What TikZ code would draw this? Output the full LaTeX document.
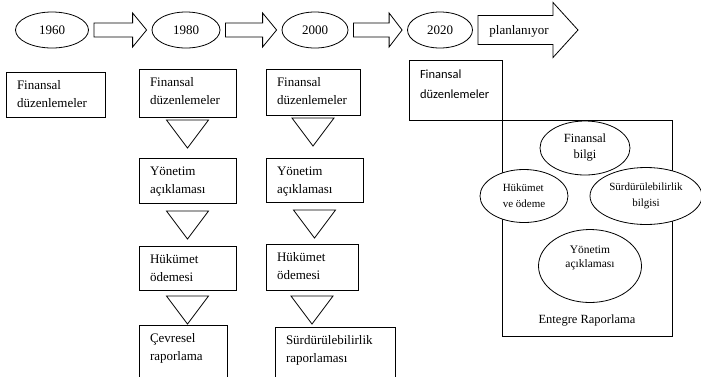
\documentclass[tikz,border=0pt]{standalone}
\usepackage{fontspec}
\setmainfont{Liberation Serif}
\newfontfamily\calibrifont{Carlito}
\usetikzlibrary{shapes.geometric, calc, positioning}

% block arrow between two anchors: start, end, half body, half head, head length
\newcommand{\yeararrow}[5]{%
  \draw let \p1=($(#1)+(5pt,0pt)$), \p2=($(#2)+(-5pt,0pt)$) in
    (\x1,\y1+#3) -- (\x2-#5,\y1+#3) -- (\x2-#5,\y1+#4) -- (\x2,\y1)
    -- (\x2-#5,\y1-#4) -- (\x2-#5,\y1-#3) -- (\x1,\y1-#3) -- cycle;}

\begin{document}
\begin{tikzpicture}[x=1pt, y=-1pt, line width=0.8pt]
        % Styles
        \tikzstyle{year} = [draw, ellipse, minimum width=66pt, minimum height=36pt, inner sep=1pt, font=\fontsize{13}{16}\selectfont]
        \tikzstyle{box} = [draw, rectangle, anchor=north west, align=left, inner xsep=11pt, inner ysep=5pt, outer sep=0pt, text height=12pt, font=\fontsize{13}{18.5}\selectfont]
        \tikzstyle{bubble} = [draw, ellipse, fill=white, align=center, inner sep=1pt]

        \useasboundingbox (0,0) rectangle (701,376);
        \clip (0,0) rectangle (701,376);

        % Time line
        \node[year, minimum width=73pt] (y60) at (52,30) {1960};
        \node[year, minimum width=68pt] (y80) at (186,30) {1980};
        \node[year] (y00) at (315,30) {2000};
        \node[year, minimum width=65pt] (y20) at (440,30) {2020};
        \coordinate (tip) at (583,30);
        \node[font=\fontsize{13}{16}\selectfont] (plan) at (519,31) {planlanıyor};

        \yeararrow{y60.east}{y80.west}{7pt}{17pt}{14pt}
        \yeararrow{y80.east}{y00.west}{7pt}{17pt}{14pt}
        \yeararrow{y00.east}{y20.west}{7pt}{17pt}{13pt}
        \yeararrow{y20.east}{tip}{14.5pt}{27.5pt}{25pt}

        % 1960
        \node[box, text width=77pt, text depth=23pt] (f60) at (6,72) {Finansal\\düzenlemeler};

        % 1980
        \node[box, text width=75pt, text depth=26pt] (a1) at (139,69) {Finansal\\düzenlemeler};
        \node[box, text width=75pt, text depth=23pt] (a2) at (139,158) {Yönetim\\açıklaması};
        \node[box, text width=75pt, text depth=22pt] (a3) at (139,246) {Hükümet\\ödemesi};
        \node[box, text width=66pt, text depth=33pt] (a4) at (139,325) {Çevresel\\raporlama};

        % 2000
        \node[box, text width=72pt, text depth=24pt] (b1) at (266,69) {Finansal\\düzenlemeler};
        \node[box, text width=75pt, text depth=22pt] (b2) at (266,158) {Yönetim\\açıklaması};
        \node[box, text width=70pt, text depth=24pt] (b3) at (266,244) {Hükümet\\ödemesi};
        \node[box, text width=98pt, text depth=33pt] (b4) at (275,327) {Sürdürülebilirlik\\raporlaması};

        % Triangles
        \foreach \c in {a,b}
          \foreach \i/\g in {1/3, 2/8, 3/6}
            \draw ($(\c\i.south)+(-21,\g)$) -- ++(42,0) -- ++(-21,28) -- cycle;

        % 2020
        \node[box, inner xsep=11pt, text width=71pt, text height=13pt, text depth=37pt, font=\calibrifont\fontsize{12.5}{20}\selectfont] (fin20) at (409,60) {Finansal\\düzenlemeler};
        \node[draw, rectangle, outer sep=0pt, minimum width=170pt, minimum height=216pt, below right=0pt and 0pt of fin20,
              label={[anchor=south, yshift=6pt, font=\fontsize{12.5}{15}\selectfont]south:Entegre Raporlama}] (entegre) {};

        \node[bubble, minimum width=90pt, minimum height=54pt, font=\fontsize{12.5}{16}\selectfont] (finb) at (585,148) {Finansal\\bilgi};
        \node[bubble, align=left, minimum width=88pt, minimum height=53pt, font=\fontsize{11}{16}\selectfont] (hukb) at (524,196) {Hükümet\\ve ödeme};
        \node[bubble, minimum width=112pt, minimum height=57pt, font=\fontsize{11}{16}\selectfont] (surb) at (646,196) {Sürdürülebilirlik\\bilgisi};
        \node[bubble, minimum width=103pt, minimum height=73pt,
              label={[align=center, yshift=8pt, font=\fontsize{11.5}{14}\selectfont]center:Yönetim\\açıklaması}] (yonb) at (590,266) {};
    \end{tikzpicture}
\end{document}
